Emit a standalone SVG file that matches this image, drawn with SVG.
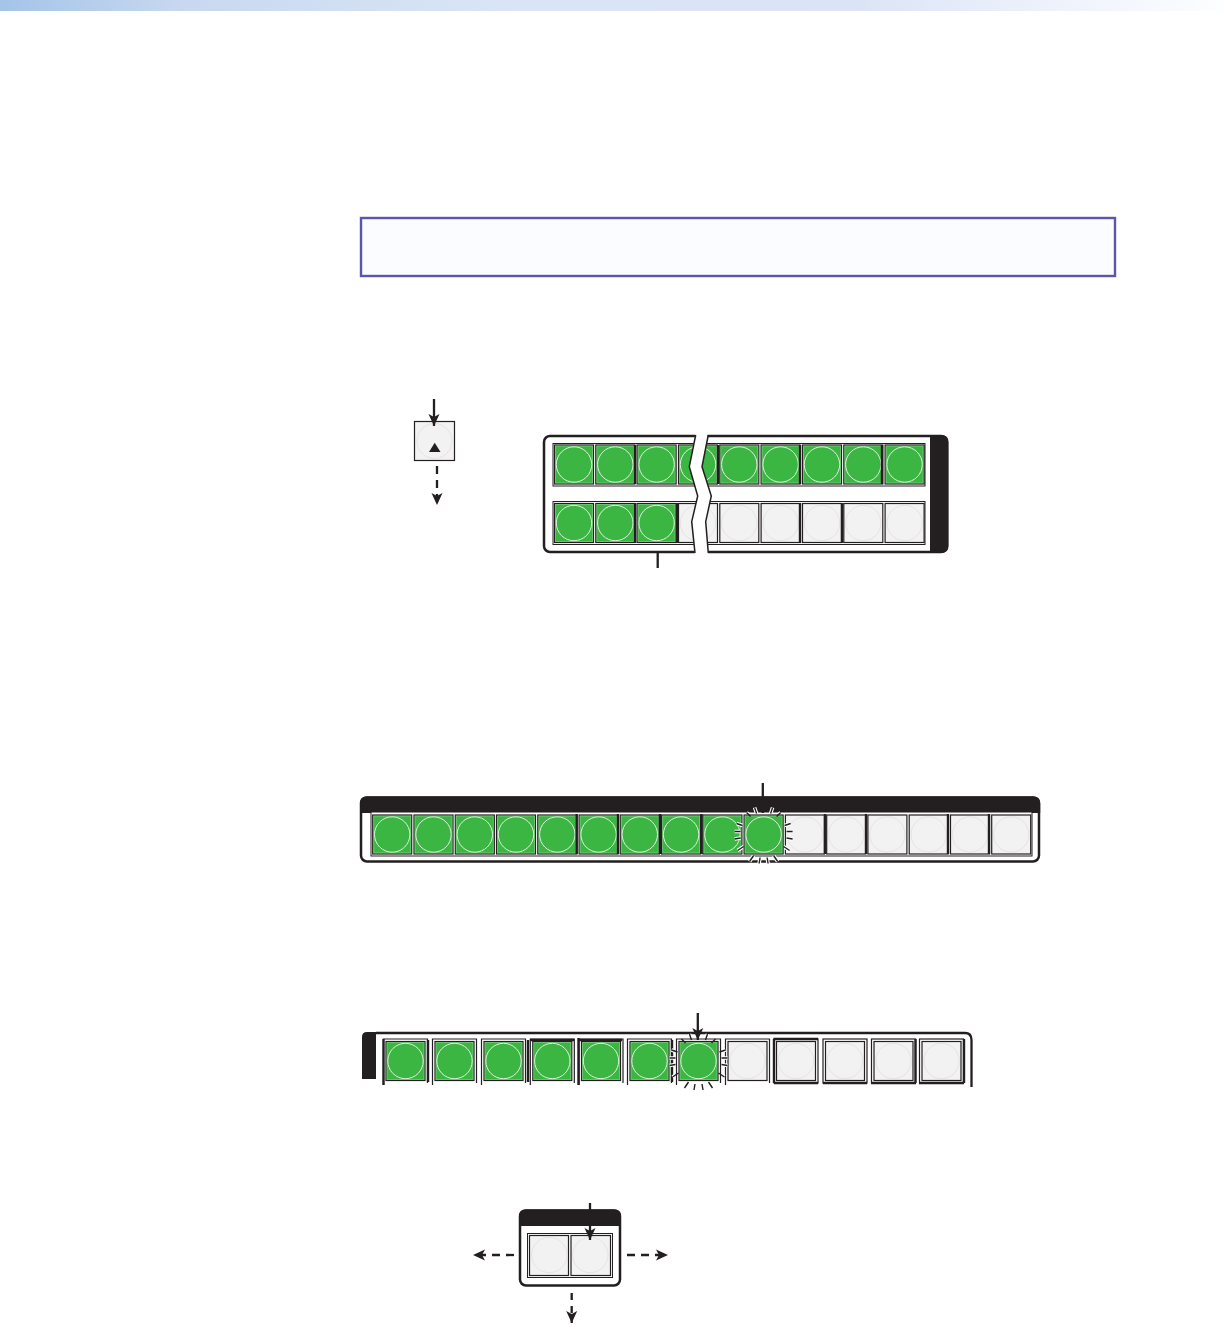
<svg xmlns="http://www.w3.org/2000/svg" width="1224" height="1327" viewBox="0 0 1224 1327">
<style>
.pan{fill:#fff;stroke:#231f20;stroke-width:2.5}
.blk{fill:#231f20;stroke:none}
.frm{fill:#fff;stroke:#231f20;stroke-width:1}
.gfill{fill:#3cb643;stroke:#231f20;stroke-width:1.2}
.gbev{fill:none;stroke:#9fd3a2;stroke-width:1;opacity:.55}
.gcir{fill:#3cb643;stroke:#dff0df;stroke-width:1}
.wfill{fill:#f2f2f2;stroke:#231f20;stroke-width:1.2}
.wcir{fill:#f2f2f2;stroke:#e4e4e4;stroke-width:1}
.div{stroke:#231f20;stroke-width:2.4;fill:none}
.gapw{fill:#fff;stroke:none}
.gape{fill:none;stroke:#231f20;stroke-width:1.5}
.tickh{fill:none;stroke:#fff;stroke-width:3.6}
.tick{fill:none;stroke:#231f20;stroke-width:1.4}
.ln{fill:none;stroke:#231f20;stroke-width:2.3}
.arr{fill:none;stroke:#231f20;stroke-width:2.3;marker-end:url(#head)}
.dash{stroke-dasharray:8 6}
.open{fill:none;stroke:#231f20;stroke-width:1.2}
</style>
<defs>
<linearGradient id="hdr" x1="0" x2="1" y1="0" y2="0">
<stop offset="0" stop-color="#a4c4e8"/><stop offset=".15" stop-color="#c8d8f0"/><stop offset=".4" stop-color="#d9e5f6"/><stop offset=".7" stop-color="#dbe4f6"/><stop offset=".85" stop-color="#edf1fb"/><stop offset="1" stop-color="#fcfeff"/>
</linearGradient>
<marker id="head" markerUnits="userSpaceOnUse" markerWidth="15" markerHeight="14" viewBox="-14 -7 15 14" refX="0" refY="0" orient="auto">
<path d="M-12,-5.500 L0,0 L-12,5.500 L-9,0 Z" fill="#231f20"/>
</marker>
<g id="bg"><rect class="gfill" x="-19.5" y="-19.5" width="39" height="39"/><rect class="gbev" x="-18.5" y="-18.5" width="37" height="37"/><circle class="gcir" r="17.7"/></g>
<g id="bw"><rect class="wfill" x="-19.5" y="-19.5" width="39" height="39"/><circle class="wcir" r="17.7"/></g>
<path id="ticksh" class="tickh" d="M-7,-21L-9,-27M7,-21L9,-27M-13,-18L-17,-22M13,-18L17,-22M21,-9L27,-11M23,-3L29,-3M23,3.5L29,4.5M20,12L26,16M10,21L14,27M3.5,23L4.5,29M-3.5,23L-4.5,29M-10,21L-14,27M-20,12L-26,16M-23,3.5L-29,4.5M-23,-3L-29,-3M-21,-9L-27,-11"/>
<path id="ticks" class="tick" d="M-7,-21L-9,-27M7,-21L9,-27M-13,-18L-17,-22M13,-18L17,-22M21,-9L27,-11M23,-3L29,-3M23,3.5L29,4.5M20,12L26,16M10,21L14,27M3.5,23L4.5,29M-3.5,23L-4.5,29M-10,21L-14,27M-20,12L-26,16M-23,3.5L-29,4.5M-23,-3L-29,-3M-21,-9L-27,-11"/>
<path id="fo" class="open" d="M-22,24V-22H22V22"/>
<rect id="fc" class="open" x="-22" y="-22" width="44" height="44"/>
</defs>

<rect id="header-bar" x="0" y="0" width="1224" height="11" fill="url(#hdr)"/>
<rect id="note-box" x="361" y="218" width="754" height="58" fill="#fbfcff" stroke="#5b56ab" stroke-width="2.4"/>

<g id="up-button">
<rect x="414.5" y="421.5" width="40" height="39" fill="#f2f2f2" stroke="#231f20" stroke-width="1.2"/>
<circle class="wcir" cx="434.5" cy="441" r="17.5"/>
<path d="M434.7,442.7L440.5,452H429Z" fill="#231f20"/>
</g>

<g id="panel-a">
<rect class="pan" x="544" y="436" width="403" height="116" rx="6"/>
<path class="blk" d="M930,435V553H941Q948.500,553 948.500,546V442Q948.500,435 941,435Z"/>
<rect class="frm" x="553" y="443.500" width="372" height="42.500"/>
<rect class="frm" x="553" y="501.500" width="372" height="43"/>
<use href="#bg" x="574" y="464.500"/><use href="#bg" x="615.300" y="464.500"/><use href="#bg" x="656.600" y="464.500"/><use href="#bg" x="698" y="464.500"/><use href="#bg" x="739.300" y="464.500"/><use href="#bg" x="780.600" y="464.500"/><use href="#bg" x="822" y="464.500"/><use href="#bg" x="863.300" y="464.500"/><use href="#bg" x="904.600" y="464.500"/>
<use href="#bg" x="574" y="523"/><use href="#bg" x="615.300" y="523"/><use href="#bg" x="656.600" y="523"/><use href="#bw" x="698" y="523"/><use href="#bw" x="739.300" y="523"/><use href="#bw" x="780.600" y="523"/><use href="#bw" x="822" y="523"/><use href="#bw" x="863.300" y="523"/><use href="#bw" x="904.600" y="523"/>
<path class="div" d="M635,445V484M718,445V484M800,445V484M882,445V484M635,503V543M677,503V543M800,503V543M842,503V543"/>
<path class="gapw" d="M695.700,432L689.300,466.700L697.700,496L691.700,521.700L695,556H708.300L705.700,521.700L711.300,496L702,466.700L708.300,432Z"/>
<path class="gape" d="M695.700,435L689.300,466.700L697.700,496L691.700,521.700L695,553"/>
<path class="gape" d="M708.300,435L702,466.700L711.300,496L705.700,521.700L708.300,553"/>
</g>

<g id="panel-b">
<rect class="pan" x="361" y="797.500" width="678" height="64" rx="6"/>
<path class="blk" d="M360,813V803Q360,796.500 366,796.500H1034Q1040.200,796.500 1040.200,803V813Z"/>
<rect class="frm" x="371" y="812" width="661" height="44"/>
<use href="#bg" x="392.200" y="834.500"/><use href="#bg" x="433.500" y="834.500"/><use href="#bg" x="474.800" y="834.500"/><use href="#bg" x="516" y="834.500"/><use href="#bg" x="557.300" y="834.500"/><use href="#bg" x="598.600" y="834.500"/><use href="#bg" x="639.800" y="834.500"/><use href="#bg" x="681.100" y="834.500"/><use href="#bg" x="722.400" y="834.500"/>
<use href="#bw" x="804.900" y="834.500"/><use href="#bw" x="846.200" y="834.500"/><use href="#bw" x="887.400" y="834.500"/><use href="#bw" x="928.700" y="834.500"/><use href="#bw" x="970" y="834.500"/><use href="#bw" x="1011.200" y="834.500"/>
<path class="div" d="M576.700,814V854M618,814V854M660,814V854M701.500,814V854M825,814V854M866,814V854M948,814V854M989,814V854"/>
<g id="panel-b-flash">
<use href="#ticksh" x="763.600" y="834.500"/>
<use href="#bg" x="763.600" y="834.500"/>
<use href="#ticks" x="763.600" y="834.500"/>
</g>
</g>

<g id="panel-c">
<path class="blk" d="M362,1079V1037Q362,1032 367,1032H376V1079H368Z"/>
<path class="ln" d="M376,1033H965Q971.500,1033 971.500,1040V1087"/>
<use href="#fo" x="405.500" y="1061"/><use href="#fo" x="454.500" y="1061"/><use href="#fo" x="503.500" y="1061"/><use href="#fo" x="552.300" y="1061"/><use href="#fo" x="601" y="1061"/><use href="#fo" x="649.500" y="1061"/>
<use href="#bg" x="405.500" y="1061"/><use href="#bg" x="454.500" y="1061"/><use href="#bg" x="503.500" y="1061"/><use href="#bg" x="552.300" y="1061"/><use href="#bg" x="601" y="1061"/><use href="#bg" x="649.500" y="1061"/>
<use href="#fo" x="747.500" y="1061"/><use href="#fc" x="796" y="1061"/><use href="#fc" x="845" y="1061"/><use href="#fc" x="893.500" y="1061"/><use href="#fc" x="941.500" y="1061"/>
<use href="#bw" x="747.500" y="1061"/><use href="#bw" x="796" y="1061"/><use href="#bw" x="845" y="1061"/><use href="#bw" x="893.500" y="1061"/><use href="#bw" x="941.500" y="1061"/>
<path class="div" d="M383.500,1039V1085M578.500,1038V1085M428,1040V1082M528,1040V1082M530,1040H574M579,1040H622M672,1040V1082M774,1039V1083M774,1083H818M823,1083H867M871,1083H916M915.500,1039V1083M964,1039V1083M919,1083H964M773.500,1039H818"/>
<g id="panel-c-flash">
<use href="#ticksh" x="698.500" y="1061"/>
<use href="#fo" x="698.500" y="1061"/>
<use href="#bg" x="698.500" y="1061"/>
<use href="#ticks" x="698.500" y="1061"/>
</g>
</g>

<g id="panel-d">
<rect class="pan" x="520" y="1210.500" width="100" height="75" rx="6"/>
<path class="blk" d="M519,1226V1216Q519,1209.500 525,1209.500H615Q621,1209.500 621,1216V1226Z"/>
<rect class="frm" x="527.500" y="1233.500" width="85" height="44"/>
<rect class="wfill" x="529.500" y="1235.500" width="39" height="40"/>
<circle class="wcir" cx="549.300" cy="1255" r="17.700"/>
<rect class="wfill" x="571" y="1235.500" width="39.500" height="40"/>
<circle class="wcir" cx="590.300" cy="1255" r="17.700"/>
</g>

<g id="connectors">
<path class="arr" d="M434,399V426"/>
<path class="arr dash" d="M437,466V505"/>
<path class="ln" d="M657.700,553V568"/>
<path class="arr" d="M762.800,783V813"/>
<path class="arr" d="M697.800,1013V1040"/>
<path class="arr" d="M590,1203V1240"/>
<path class="arr dash" d="M514,1255H473"/>
<path class="arr dash" d="M627,1255H668"/>
<path class="arr" d="M571.700,1293V1323" stroke-dasharray="7 6"/>
</g>
</svg>
